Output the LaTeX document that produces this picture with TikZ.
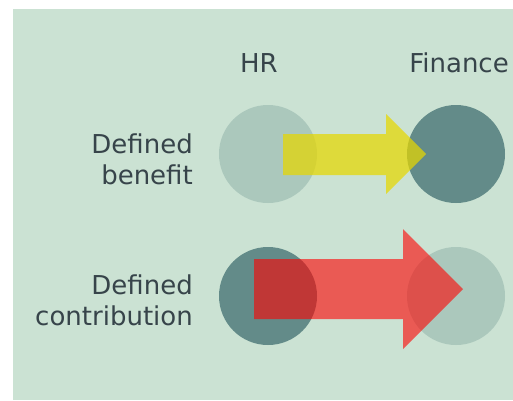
\documentclass[tikz,border=0pt]{standalone}
\usepackage{fontspec}
\setmainfont{DejaVu Sans}
\definecolor{bgc}{RGB}{203,226,211}
\definecolor{lightc}{RGB}{171,200,188}
\definecolor{darkc}{RGB}{99,139,137}
\definecolor{yel}{RGB}{230,215,0}
\definecolor{txt}{RGB}{55,68,74}
\begin{document}
\begin{tikzpicture}[x=1pt,y=-1pt,
  lbl/.style={text=txt,font=\fontsize{26}{31}\selectfont,inner sep=0pt},
  disc/.style={circle,minimum size=98pt,inner sep=0pt,draw=none},
  yarrow/.style={fill=yel,fill opacity=0.72},
  rarrow/.style={fill=red,fill opacity=0.6}]
\useasboundingbox (0,0) rectangle (513,400);
\fill[bgc] (13,9) rectangle (513,400);
% column headers
\node[lbl,anchor=base] (hr) at (259,72.5) {HR};
\node[lbl,anchor=base] (fin) at (459,72.5) {Finance};
% row labels
\node[lbl,anchor=base east,align=right] (db) at (193,184) {Defined\\benefit};
\node[lbl,anchor=base east,align=right] (dc) at (193,325) {Defined\\contribution};
% circles
\node[disc,fill=lightc] (hr1) at (268,154) {};
\node[disc,fill=darkc] (fin1) at (456,154) {};
\node[disc,fill=darkc] (hr2) at (268,296) {};
\node[disc,fill=lightc] (fin2) at (456,296) {};
% arrows
\fill[yarrow] (283,134) -- (386,134) -- (386,114) -- (426,154) -- (386,194) -- (386,175) -- (283,175) -- cycle;
\fill[rarrow] (254,259) -- (403,259) -- (403,229) -- (463,289) -- (403,349) -- (403,319) -- (254,319) -- cycle;
\end{tikzpicture}
\end{document}
